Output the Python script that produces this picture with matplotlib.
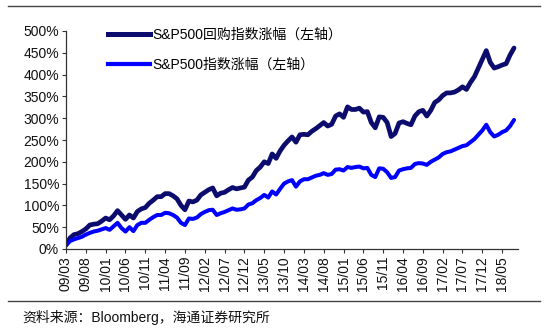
import matplotlib
matplotlib.use('Agg')
import matplotlib.pyplot as plt
from matplotlib.lines import Line2D
from matplotlib.ticker import FuncFormatter

plt.rcParams['font.family'] = ['Liberation Sans', 'Noto Sans CJK SC']
plt.rcParams['font.size'] = 10

# monthly, 2009-03 .. 2018-08, cumulative gain in %
buyback = [
    10, 25, 33, 35, 40, 46, 55, 57, 58, 64,
    71, 67, 76, 88, 78, 68, 78, 71, 86, 92,
    95, 105, 112, 120, 120, 127, 127, 122, 115, 100,
    90, 110, 108, 112, 124, 130, 136, 140, 122, 128,
    130, 136, 141, 138, 140, 142, 158, 165, 180, 188,
    200, 196, 218, 208, 225, 238, 248, 257, 245, 262,
    263, 262, 270, 276, 283, 290, 282, 286, 305, 310,
    302, 326, 320, 320, 323, 314, 315, 290, 278, 303,
    302, 290, 258, 265, 289, 292, 288, 285, 305, 315,
    318, 305, 318, 336, 342, 352, 358, 358, 360, 365,
    372, 366, 382, 395, 415, 435, 455, 428, 415, 418,
    422, 425, 445, 461,
]
sp500 = [
    8, 18, 22, 25, 28, 33, 37, 40, 42, 45,
    48, 44, 52, 60, 48, 40, 50, 41, 55, 60,
    60, 67, 73, 78, 78, 83, 82, 78, 72, 60,
    55, 70, 69, 72, 80, 85, 89, 90, 78, 82,
    85, 89, 93, 90, 91, 93, 102, 105, 112, 117,
    124, 118, 132, 125, 138, 150, 155, 158, 143, 155,
    160, 160, 164, 168, 170, 174, 170, 172, 182, 183,
    180, 188, 186, 188, 189, 185, 186, 170, 165, 185,
    184, 176, 163, 165, 180, 183, 185, 186, 195, 197,
    196, 193, 200, 205, 210, 218, 222, 224, 228, 232,
    236, 238, 245, 252, 262, 272, 285, 268, 258, 262,
    268, 272, 282, 296,
]
tick_labels = ['09/03', '09/08', '10/01', '10/06', '10/11', '11/04', '11/09',
               '12/02', '12/07', '12/12', '13/05', '13/10', '14/03', '14/08',
               '15/01', '15/06', '15/11', '16/04', '16/09', '17/02', '17/07',
               '17/12', '18/05']
series_names = ['S&P500回购指数涨幅（左轴）', 'S&P500指数涨幅（左轴）']
source_text = '资料来源：Bloomberg，海通证券研究所'

W, H = 554, 334
fig = plt.figure(figsize=(W / 100, H / 100), dpi=100)
ax = fig.add_axes([66 / W, 1 - 249 / H, (518 - 66) / W, (249 - 31) / H])

months = list(range(len(buyback)))
ax.plot(months, buyback, color='#0c0c6e', lw=3.4, solid_capstyle='round', solid_joinstyle='round')
ax.plot(months, sp500, color='#0000ff', lw=2.9, solid_capstyle='round', solid_joinstyle='round')

ax.set_xlim(0, 114)
ax.set_ylim(0, 500)
ax.set_yticks(range(0, 501, 50))
ax.yaxis.set_major_formatter(FuncFormatter(lambda v, p: f'{int(v)}%'))
ax.set_xticks(range(0, 5 * len(tick_labels), 5))
ax.set_xticklabels(tick_labels, rotation=90)

for s in ('top', 'right'):
    ax.spines[s].set_visible(False)
for s in ('left', 'bottom'):
    ax.spines[s].set_color('#333333')
    ax.spines[s].set_linewidth(0.9)
ax.tick_params(axis='both', direction='out', length=3, width=0.8, color='#333333',
               labelsize=10, labelcolor='#111111', pad=2)

handles = [Line2D([], [], color='#0c0c6e', lw=3.6), Line2D([], [], color='#0000ff', lw=3.0)]
leg = fig.legend(handles, series_names, loc='upper left',
                 bbox_to_anchor=(108 / W, 1 - 28 / H), frameon=False,
                 handlelength=3.0, handletextpad=0.2, labelspacing=1.15,
                 borderpad=0, borderaxespad=0, fontsize=10)

fig.add_artist(Line2D([8 / W, 540 / W], [1 - 6 / H, 1 - 6 / H], color='#444444', lw=1.0))
fig.add_artist(Line2D([8 / W, 540 / W], [1 - 301 / H, 1 - 301 / H], color='#444444', lw=1.0))
fig.text(22 / W, 1 - 317 / H, source_text, fontsize=10, va='center', ha='left', color='#111111')

fig.savefig('out.png', dpi=100)
